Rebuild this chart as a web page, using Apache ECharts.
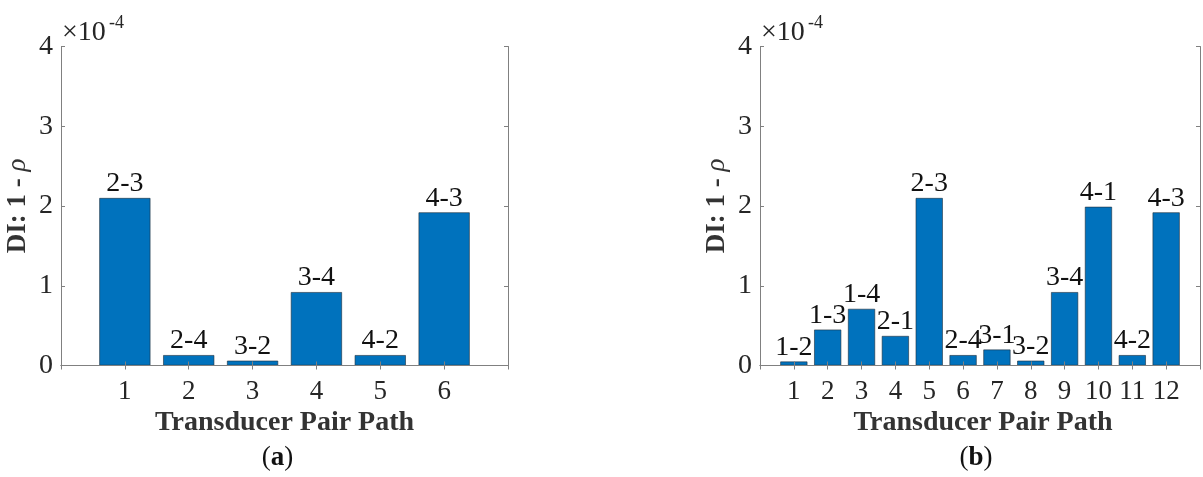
<!DOCTYPE html>
<html>
<head>
<meta charset="utf-8">
<script src="https://cdn.jsdelivr.net/npm/echarts@6/dist/echarts.min.js"></script>
<style>
  html, body { margin: 0; padding: 0; background: #fff; }
  #chart { width: 1203px; height: 477px; }
</style>
</head>
<body>
<div id="chart"></div>
<script>
// Damage index (1 - rho) per transducer pair path, in units of 1e-4
const pathsA = ['1', '2', '3', '4', '5', '6'];
const pairsA = ['2-3', '2-4', '3-2', '3-4', '4-2', '4-3'];
const valuesA = [2.10, 0.13, 0.06, 0.92, 0.13, 1.92];

const pathsB = ['1', '2', '3', '4', '5', '6', '7', '8', '9', '10', '11', '12'];
const pairsB = ['1-2', '1-3', '1-4', '2-1', '2-3', '2-4', '3-1', '3-2', '3-4', '4-1', '4-2', '4-3'];
const valuesB = [0.05, 0.45, 0.71, 0.37, 2.10, 0.13, 0.20, 0.06, 0.92, 1.99, 0.13, 1.92];

const yTicks = [0, 1, 2, 3, 4];
const exponentText = '-4';
const panelTags = ['a', 'b'];

const FONT = 'Liberation Serif';
const TEXT = '#262626';
const AXIS = '#808080';
const BAR = '#0072BD';

// Each panel runs from 0 to n+1 on x; empty end categories give half-gap margins
function padCats(cats) { return [''].concat(cats, ['']); }
function padVals(vals) { return [null].concat(vals, [null]); }

const panels = [
  { left: 61, width: 447, paths: pathsA, pairs: pairsA, values: valuesA, tag: panelTags[0] },
  { left: 760, width: 446, paths: pathsB, pairs: pairsB, values: valuesB, tag: panelTags[1] }
];
const TOP = 46.5, HEIGHT = 319;

const grid = [], xAxis = [], yAxis = [], series = [], graphic = [];

function txt(x, y, text, size, weight, style, color) {
  return {
    type: 'text', x: x, y: y,
    style: {
      text: text, fill: color, fontFamily: FONT, fontSize: size,
      fontWeight: weight, fontStyle: style, align: 'center', verticalAlign: 'middle'
    }
  };
}

panels.forEach(function (p, i) {
  grid.push({ left: p.left, top: TOP, width: p.width, height: HEIGHT, containLabel: false });
  const cats = padCats(p.paths);
  const lineStyle = { color: AXIS, width: 1 };
  // bottom x axis with labels (drawn above the bars, box style)
  xAxis.push({
    type: 'category', gridIndex: i, data: cats, boundaryGap: false, position: 'bottom', z: 5,
    axisLine: { show: true, lineStyle: lineStyle },
    axisTick: { show: true, inside: true, length: 4, lineStyle: lineStyle, interval: 0 },
    axisLabel: { show: true, interval: 0, color: TEXT, fontFamily: FONT, fontSize: 27, margin: 13 },
    splitLine: { show: false }
  });
  // top x axis (box edge)
  xAxis.push({
    type: 'category', gridIndex: i, data: cats, boundaryGap: false, position: 'top', z: 5,
    axisLine: { show: true, lineStyle: lineStyle },
    axisTick: { show: true, inside: true, length: 4, lineStyle: lineStyle, interval: 0 },
    axisLabel: { show: false }, splitLine: { show: false }
  });
  yAxis.push({
    type: 'value', gridIndex: i, min: yTicks[0], max: yTicks[yTicks.length - 1], interval: 1,
    position: 'left', z: 5,
    axisLine: { show: true, lineStyle: lineStyle },
    axisTick: { show: true, inside: true, length: 4, lineStyle: lineStyle },
    axisLabel: { color: TEXT, fontFamily: FONT, fontSize: 28, margin: 8 },
    splitLine: { show: false }
  });
  yAxis.push({
    type: 'value', gridIndex: i, min: yTicks[0], max: yTicks[yTicks.length - 1], interval: 1,
    position: 'right', z: 5,
    axisLine: { show: true, lineStyle: lineStyle },
    axisTick: { show: true, inside: true, length: 4, lineStyle: lineStyle },
    axisLabel: { show: false }, splitLine: { show: false }
  });
  const pairLabels = padCats(p.pairs);
  series.push({
    type: 'bar', xAxisIndex: i * 2, yAxisIndex: i * 2,
    data: padVals(p.values), barWidth: '80%',
    itemStyle: { color: BAR, borderColor: '#1f2d3a', borderWidth: 0.6 },
    label: {
      show: true, position: 'top', distance: 0,
      color: '#111', fontFamily: FONT, fontSize: 28,
      formatter: function (d) { return pairLabels[d.dataIndex]; }
    },
    silent: true, animation: false
  });

  const cx = p.left + p.width / 2;
  // x title
  graphic.push(txt(cx, 423, 'Transducer Pair Path', 28, 'bold', 'normal', '#333'));
  // panel tag: "(" + bold letter + ")"
  graphic.push({
    type: 'text', x: cx - 7, y: 458,
    style: {
      text: '{n|(}{b|' + p.tag + '}{n|)}', align: 'center', verticalAlign: 'middle',
      rich: {
        n: { fontFamily: FONT, fontSize: 27, fill: '#111' },
        b: { fontFamily: FONT, fontSize: 27, fontWeight: 'bold', fill: '#111' }
      }
    }
  });
  // y title, rotated
  graphic.push({
    type: 'text', x: p.left - 43, y: 206, rotation: Math.PI / 2,
    style: {
      text: '{b|DI: 1 - }{r|\u03C1}', align: 'center', verticalAlign: 'middle',
      rich: {
        b: { fontFamily: FONT, fontSize: 27, fontWeight: 'bold', fill: '#333' },
        r: { fontFamily: FONT, fontSize: 27, fontStyle: 'italic', fill: '#333' }
      }
    }
  });
  // exponent marker
  const e1 = txt(p.left + 1, 33, '\u00D710', 28, 'normal', 'normal', TEXT);
  e1.style.align = 'left';
  graphic.push(e1);
  const e2 = txt(p.left + 48, 23, exponentText, 18, 'normal', 'normal', TEXT);
  e2.style.align = 'left';
  graphic.push(e2);
});

const chart = echarts.init(document.getElementById('chart'), null, { renderer: 'canvas' });
chart.setOption({
  backgroundColor: '#fff',
  animation: false,
  grid: grid, xAxis: xAxis, yAxis: yAxis, series: series, graphic: graphic
});
</script>
</body>
</html>
